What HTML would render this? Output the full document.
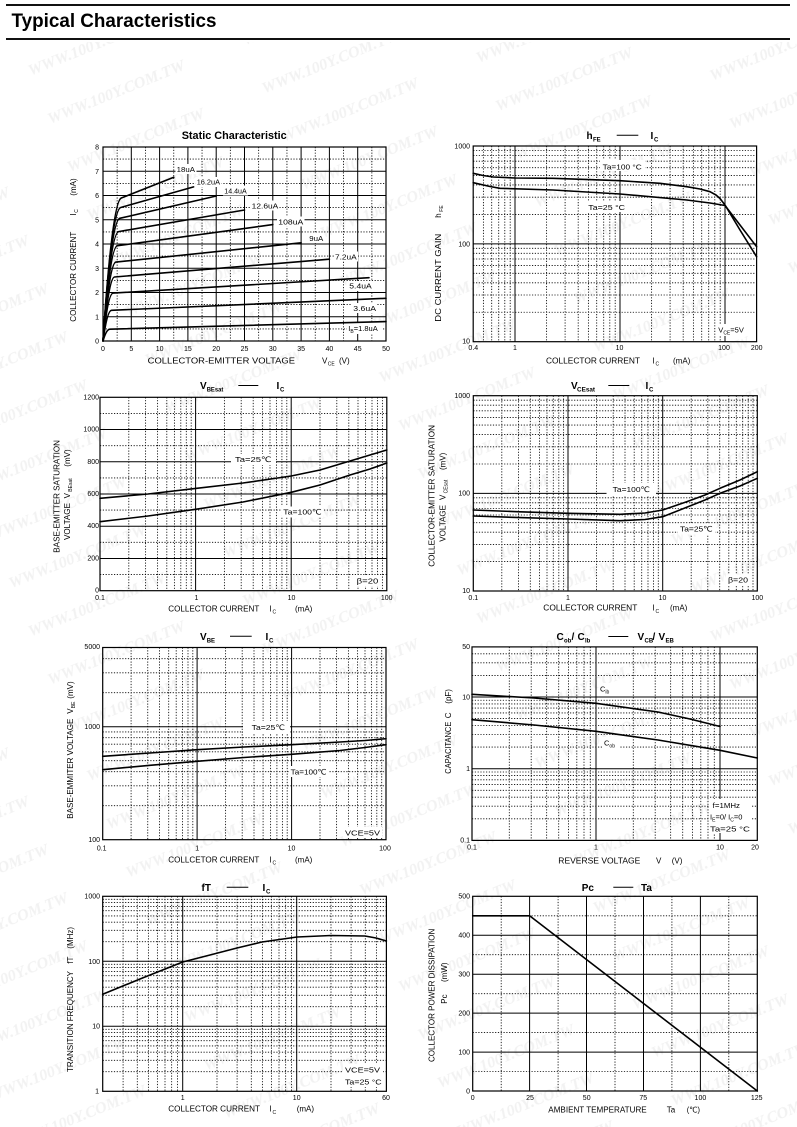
<!DOCTYPE html>
<html><head><meta charset="utf-8"><style>
html,body{margin:0;padding:0;background:#fff}
svg{display:block}
text{font-family:"Liberation Sans",Arial,"DejaVu Sans","Noto Sans CJK SC",sans-serif;fill:#000}
.s{stroke:#000;stroke-width:1;fill:none}
.d{stroke:#000;stroke-width:0.85;stroke-dasharray:1.2 1.6;fill:none}
.b{stroke:#000;stroke-width:1.2;fill:none}
.c{stroke:#000;stroke-width:1.6;fill:none;stroke-linejoin:round;stroke-linecap:round}
.t{font-size:7px}
.te{font-size:7px;text-anchor:end}
.tm{font-size:7px;text-anchor:middle}
.a{font-size:8px}
.n{font-size:7.5px}
.sb{font-size:5px}
.h{font-size:10px;font-weight:bold}
.hs{font-size:6px;font-weight:bold}
.wm{font-family:"Liberation Serif",serif;font-weight:bold;font-style:italic;font-size:16px;fill:#f2f2f2}
</style></head><body>
<svg width="797" height="1127" viewBox="0 0 797 1127" xmlns="http://www.w3.org/2000/svg">
<defs>
<pattern id="wm" width="210" height="52" patternUnits="userSpaceOnUse" patternTransform="rotate(-22)">
<text class="wm" x="0" y="30">WWW.100Y.COM.TW</text>
</pattern>
</defs>
<rect x="0" y="0" width="797" height="1127" fill="#fff"/>
<rect x="0" y="42" width="797" height="1085" fill="url(#wm)"/>

<!-- Header -->
<rect x="6" y="4" width="784" height="2" fill="#111"/>
<rect x="6" y="38" width="784" height="2" fill="#111"/>
<text x="11.5" y="27" style="font-size:19px;font-weight:bold" textLength="205" lengthAdjust="spacingAndGlyphs">Typical Characteristics</text>

<!-- ============ Chart A: Static Characteristic ============ -->
<path class="d" d="M117.15 147V341M145.45 147V341M173.75 147V341M202.05 147V341M230.35 147V341M258.65 147V341M286.95 147V341M315.25 147V341M343.55 147V341M371.85 147V341M103 328.9H386M103 304.6H386M103 280.4H386M103 256.1H386M103 231.9H386M103 207.6H386M103 183.4H386M103 159.1H386"/>
<path class="s" d="M131.3 147V341M159.6 147V341M187.9 147V341M216.2 147V341M244.5 147V341M272.8 147V341M301.1 147V341M329.4 147V341M357.7 147V341M103 316.75H386M103 292.5H386M103 268.25H386M103 244H386M103 219.75H386M103 195.5H386M103 171.25H386"/>
<rect class="b" x="103" y="147" width="283" height="194"/>
<g fill="#fff">
<rect x="175.5" y="164" width="21" height="10"/><rect x="195.5" y="177" width="26" height="10"/><rect x="223" y="185.5" width="25" height="10"/><rect x="250.5" y="200.5" width="29" height="10"/><rect x="277" y="216.5" width="27.5" height="10"/><rect x="308" y="233" width="16.5" height="10"/><rect x="334" y="251.5" width="24" height="10"/><rect x="348" y="281" width="25" height="10"/><rect x="352" y="303" width="25" height="10"/><rect x="347" y="323" width="36" height="11"/>
</g>
<path class="c" d="M103 341Q106.4 329.3 109.8 329.2L386 321.6"/>
<path class="c" d="M103 341Q107.2 310.5 111.5 310.3L386 298.3"/>
<path class="c" d="M103 341Q108 293.4 113.1 293.1L369 277.7"/>
<path class="c" d="M103 341Q108.8 277.5 114.5 277L329.4 259.2"/>
<path class="c" d="M103 341Q109.5 262.7 115.9 262.1L301.1 242.8"/>
<path class="c" d="M103 341Q110.2 246.7 117.4 245.7L272.8 224.6"/>
<path class="c" d="M103 341Q110.8 233 118.6 231.6L244.5 210"/>
<path class="c" d="M103 341Q111.4 220.2 119.8 218.3L216.2 196"/>
<path class="c" d="M103 341Q111.8 210 120.7 207.5L193.6 186.9"/>
<path class="c" d="M103 341Q112.2 201.6 121.3 198L173.8 177.3"/>
<text class="n" x="176.7" y="172" textLength="18.3" lengthAdjust="spacingAndGlyphs">18uA</text>
<text class="n" x="196.7" y="184.7" textLength="23.3" lengthAdjust="spacingAndGlyphs">16.2uA</text>
<text class="n" x="224.3" y="193.4" textLength="22.4" lengthAdjust="spacingAndGlyphs">14.4uA</text>
<text class="n" x="251.7" y="208.7" textLength="26.6" lengthAdjust="spacingAndGlyphs">12.6uA</text>
<text class="n" x="278.3" y="224.4" textLength="25" lengthAdjust="spacingAndGlyphs">108uA</text>
<text class="n" x="309.3" y="241" textLength="14" lengthAdjust="spacingAndGlyphs">9uA</text>
<text class="n" x="335" y="259.4" textLength="21.7" lengthAdjust="spacingAndGlyphs">7.2uA</text>
<text class="n" x="349.3" y="288.7" textLength="22.4" lengthAdjust="spacingAndGlyphs">5.4uA</text>
<text class="n" x="353.3" y="311" textLength="22.7" lengthAdjust="spacingAndGlyphs">3.6uA</text>
<text class="n" x="348.3" y="331">I<tspan class="sb" dy="2">B</tspan><tspan dy="-2">=1.8uA</tspan></text>
<g class="te"><text x="99" y="343.5">0</text><text x="99" y="319.25">1</text><text x="99" y="295">2</text><text x="99" y="270.75">3</text><text x="99" y="246.5">4</text><text x="99" y="222.25">5</text><text x="99" y="198">6</text><text x="99" y="173.75">7</text><text x="99" y="149.5">8</text></g>
<g class="tm"><text x="103" y="350.8">0</text><text x="131.3" y="350.8">5</text><text x="159.6" y="350.8">10</text><text x="187.9" y="350.8">15</text><text x="216.2" y="350.8">20</text><text x="244.5" y="350.8">25</text><text x="272.8" y="350.8">30</text><text x="301.1" y="350.8">35</text><text x="329.4" y="350.8">40</text><text x="357.7" y="350.8">45</text><text x="386" y="350.8">50</text></g>
<text x="181.7" y="139" style="font-size:11px;font-weight:bold" textLength="105" lengthAdjust="spacingAndGlyphs">Static Characteristic</text>
<text class="a" x="147.7" y="363.3" textLength="147.3" lengthAdjust="spacingAndGlyphs">COLLECTOR-EMITTER VOLTAGE</text>
<text class="a" x="322" y="363.3">V</text><text class="sb" x="327.8" y="365.5">CE</text><text class="a" x="339" y="363.3">(V)</text>
<g transform="translate(76.2 321.7) rotate(-90)"><text class="a" x="0" y="0" textLength="90" lengthAdjust="spacingAndGlyphs">COLLECTOR CURRENT</text><text class="a" x="106" y="0">I</text><text class="sb" x="109" y="2">C</text><text class="a" x="126" y="0">(mA)</text></g>

<!-- ============ Chart B: hFE ============ -->
<path class="d" d="M483.4 146V341.7M491.7 146V341.7M498.7 146V341.7M504.8 146V341.7M510.2 146V341.7M546.6 146V341.7M565.1 146V341.7M578.2 146V341.7M588.4 146V341.7M596.7 146V341.7M603.7 146V341.7M609.8 146V341.7M615.2 146V341.7M651.6 146V341.7M670.1 146V341.7M683.2 146V341.7M693.4 146V341.7M701.7 146V341.7M708.7 146V341.7M714.8 146V341.7M720.2 146V341.7M473.2 312.25H756.6M473.2 295H756.6M473.2 282.8H756.6M473.2 273.3H756.6M473.2 265.6H756.6M473.2 259H756.6M473.2 253.3H756.6M473.2 248.3H756.6M473.2 214.4H756.6M473.2 197.2H756.6M473.2 184.9H756.6M473.2 175.45H756.6M473.2 167.7H756.6M473.2 161.2H756.6M473.2 155.5H756.6M473.2 150.5H756.6"/>
<path class="s" d="M515 146V341.7M620 146V341.7M725 146V341.7M473.2 243.85H756.6"/>
<rect class="b" x="473.2" y="146" width="283.4" height="195.7"/>
<g fill="#fff"><rect x="600" y="160" width="45" height="11"/><rect x="586" y="201" width="42" height="11"/><rect x="716" y="324" width="37" height="12"/></g>
<polyline class="c" points="473.2,173.3 483,175.5 493.3,177 515,178 553,178.3 620,180.7 660,183.3 686.7,186.7 700,189 710,191.7 716,195 720,198.5 725,205 740,230 756.6,256.7"/>
<polyline class="c" points="473.2,182.7 490,186.5 500,188.3 553,190 620,194 686.7,200 710,203 725,205.5 740,225 756.6,246.7"/>
<text class="n" x="602.7" y="169.4" textLength="39" lengthAdjust="spacingAndGlyphs">Ta=100 °C</text>
<text class="n" x="588.3" y="210" textLength="36.7" lengthAdjust="spacingAndGlyphs">Ta=25 °C</text>
<text class="n" x="718.3" y="332.7">V<tspan class="sb" dy="2">CE</tspan><tspan dy="-2">=5V</tspan></text>
<g class="te"><text x="470" y="148.5">1000</text><text x="470" y="246.3">100</text><text x="470" y="343.5">10</text></g>
<g class="tm"><text x="473.3" y="350.2">0.4</text><text x="515" y="350.2">1</text><text x="619.5" y="350.2">10</text><text x="724" y="350.2">100</text><text x="756.7" y="350.2">200</text></g>
<text class="h" x="586.5" y="139">h</text><text class="hs" x="593" y="141.5">FE</text><path class="s" d="M616.7 135.3H638.3"/><text class="h" x="650.5" y="139">I</text><text class="hs" x="654" y="141.5">C</text>
<text class="a" x="546" y="363.3" textLength="94" lengthAdjust="spacingAndGlyphs">COLLECTOR CURRENT</text>
<text class="a" x="652.5" y="363.3">I</text><text class="sb" x="655.5" y="365.5">C</text><text class="a" x="673" y="363.3">(mA)</text>
<g transform="translate(441.2 321.7) rotate(-90)"><text class="a" x="0" y="0" textLength="88" lengthAdjust="spacingAndGlyphs">DC CURRENT GAIN</text><text class="a" x="104" y="0">h</text><text class="sb" x="110" y="2">FE</text></g>

<!-- ============ Chart C: VBEsat ============ -->
<path class="d" d="M128.8 397.3V590.7M145.6 397.3V590.7M157.6 397.3V590.7M166.8 397.3V590.7M174.4 397.3V590.7M180.8 397.3V590.7M186.3 397.3V590.7M191.2 397.3V590.7M224.4 397.3V590.7M241.2 397.3V590.7M253.2 397.3V590.7M262.4 397.3V590.7M270 397.3V590.7M276.4 397.3V590.7M281.9 397.3V590.7M286.8 397.3V590.7M320 397.3V590.7M336.8 397.3V590.7M348.8 397.3V590.7M358 397.3V590.7M365.6 397.3V590.7M372 397.3V590.7M377.5 397.3V590.7M382.4 397.3V590.7M100 574.6H386.8M100 542.35H386.8M100 510.1H386.8M100 477.9H386.8M100 445.65H386.8M100 413.4H386.8"/>
<path class="s" d="M195.6 397.3V590.7M291.2 397.3V590.7M100 558.5H386.8M100 526.2H386.8M100 494H386.8M100 461.8H386.8M100 429.5H386.8"/>
<rect class="b" x="100" y="397.3" width="286.8" height="193.4"/>
<g fill="#fff"><rect x="231" y="454" width="45" height="11"/><rect x="281.5" y="506.5" width="42" height="11"/><rect x="354" y="575" width="27" height="11"/></g>
<polyline class="c" points="100,498.3 148,494 195.6,488.4 243,483 291.2,476 320,470 350,461 370,455 386.8,450"/>
<polyline class="c" points="100,521.7 148,516 195.6,509.3 243,502 291.2,492.3 320,485 350,475 370,469 386.8,463"/>
<text class="n" x="235" y="462" textLength="36.7" lengthAdjust="spacingAndGlyphs">Ta=25℃</text>
<text class="n" x="283.3" y="514.4" textLength="38.4" lengthAdjust="spacingAndGlyphs">Ta=100℃</text>
<text class="n" x="356.7" y="583.4" textLength="21.6" lengthAdjust="spacingAndGlyphs">β=20</text>
<g class="te"><text x="99" y="399.3">1200</text><text x="99" y="431.5">1000</text><text x="99" y="463.8">800</text><text x="99" y="496">600</text><text x="99" y="528.2">400</text><text x="99" y="560.5">200</text><text x="99" y="592.7">0</text></g>
<g class="tm"><text x="100" y="600.2">0.1</text><text x="196.5" y="600.2">1</text><text x="291.5" y="600.2">10</text><text x="386.7" y="600.2">100</text></g>
<text class="h" x="200" y="389">V</text><text class="hs" x="206.7" y="391.5" textLength="16.6" lengthAdjust="spacingAndGlyphs">BEsat</text><path class="s" d="M238.3 385.5H258.3"/><text class="h" x="276.5" y="389">I</text><text class="hs" x="280" y="391.5">C</text>
<text class="a" x="168.3" y="611.3" textLength="91" lengthAdjust="spacingAndGlyphs">COLLECTOR CURRENT</text>
<text class="a" x="269.5" y="611.3">I</text><text class="sb" x="272.5" y="613.5">C</text><text class="a" x="295" y="611.3">(mA)</text>
<g transform="translate(59.6 552.7) rotate(-90)"><text class="a" x="0" y="0" textLength="112.7" lengthAdjust="spacingAndGlyphs">BASE-EMITTER SATURATION</text></g>
<g transform="translate(70.2 540) rotate(-90)"><text class="a" x="0" y="0" textLength="37" lengthAdjust="spacingAndGlyphs">VOLTAGE</text><text class="a" x="41.7" y="0">V</text><text class="sb" x="48.3" y="2">BEsat</text><text class="a" x="73.3" y="0">(mV)</text></g>

<!-- ============ Chart D: VCEsat ============ -->
<path class="d" d="M501.8 395.7V591M518.5 395.7V591M530.3 395.7V591M539.5 395.7V591M547 395.7V591M553.3 395.7V591M558.8 395.7V591M563.6 395.7V591M596.5 395.7V591M613.2 395.7V591M625 395.7V591M634.2 395.7V591M641.7 395.7V591M648 395.7V591M653.5 395.7V591M658.3 395.7V591M691.2 395.7V591M707.8 395.7V591M719.7 395.7V591M728.8 395.7V591M736.3 395.7V591M742.7 395.7V591M748.2 395.7V591M753 395.7V591M473.3 561.6H757.3M473.3 544.4H757.3M473.3 532.2H757.3M473.3 522.7H757.3M473.3 515H757.3M473.3 508.5H757.3M473.3 502.8H757.3M473.3 497.8H757.3M473.3 464H757.3M473.3 446.8H757.3M473.3 434.6H757.3M473.3 425.1H757.3M473.3 417.4H757.3M473.3 410.8H757.3M473.3 405.2H757.3M473.3 400.2H757.3"/>
<path class="s" d="M568 395.7V591M662.7 395.7V591M473.3 493.35H757.3"/>
<rect class="b" x="473.3" y="395.7" width="284" height="195.3"/>
<g fill="#fff"><rect x="606.5" y="483" width="49.5" height="12"/><rect x="678" y="523.5" width="37" height="11"/><rect x="726" y="574.5" width="25" height="11"/></g>
<polyline class="c" points="473.3,510 520,511.8 568,513.3 620,514.3 645,513 662.7,510 686.7,501.7 705,495 720,488.3 740,480 757.3,471.7"/>
<polyline class="c" points="473.3,516 520,517.6 568,519 620,520.7 645,519.5 662.7,516.7 686.7,507.3 705,500 720,493.3 740,486 757.3,478.3"/>
<text class="n" x="612.7" y="492" textLength="37.3" lengthAdjust="spacingAndGlyphs">Ta=100℃</text>
<text class="n" x="680" y="531.7" textLength="32.7" lengthAdjust="spacingAndGlyphs">Ta=25℃</text>
<text class="n" x="728" y="582.7" textLength="20" lengthAdjust="spacingAndGlyphs">β=20</text>
<g class="te"><text x="470" y="398">1000</text><text x="470" y="495.5">100</text><text x="470" y="593">10</text></g>
<g class="tm"><text x="473.3" y="599.8">0.1</text><text x="568" y="599.8">1</text><text x="662.5" y="599.8">10</text><text x="757.3" y="599.8">100</text></g>
<text class="h" x="571" y="389">V</text><text class="hs" x="577" y="391.5" textLength="18" lengthAdjust="spacingAndGlyphs">CEsat</text><path class="s" d="M608.3 385.5H629.3"/><text class="h" x="645.5" y="389">I</text><text class="hs" x="649" y="391.5">C</text>
<text class="a" x="543.3" y="610.7" textLength="94" lengthAdjust="spacingAndGlyphs">COLLECTOR CURRENT</text>
<text class="a" x="652.5" y="610.7">I</text><text class="sb" x="655.5" y="612.9">C</text><text class="a" x="670" y="610.7">(mA)</text>
<g transform="translate(434.6 566.7) rotate(-90)"><text class="a" x="0" y="0" textLength="141.7" lengthAdjust="spacingAndGlyphs">COLLECTOR-EMITTER SATURATION</text></g>
<g transform="translate(445.6 541.7) rotate(-90)"><text class="a" x="0" y="0" textLength="36.7" lengthAdjust="spacingAndGlyphs">VOLTAGE</text><text class="a" x="41.7" y="0">V</text><text class="sb" x="48.3" y="2">CEsat</text><text class="a" x="71.7" y="0">(mV)</text></g>

<!-- ============ Chart E: VBE ============ -->
<path class="d" d="M131.1 647.5V839.7M147.75 647.5V839.7M159.55 647.5V839.7M168.7 647.5V839.7M176.2 647.5V839.7M182.5 647.5V839.7M188 647.5V839.7M192.8 647.5V839.7M225.6 647.5V839.7M242.2 647.5V839.7M254 647.5V839.7M263.1 647.5V839.7M270.6 647.5V839.7M276.9 647.5V839.7M282.4 647.5V839.7M287.2 647.5V839.7M320 647.5V839.7M336.6 647.5V839.7M348.4 647.5V839.7M357.6 647.5V839.7M365 647.5V839.7M371.4 647.5V839.7M376.8 647.5V839.7M381.7 647.5V839.7M102.7 805.7H386M102.7 785.8H386M102.7 771.7H386M102.7 760.7H386M102.7 751.8H386M102.7 744.2H386M102.7 737.65H386M102.7 731.9H386M102.7 692.7H386M102.7 672.8H386M102.7 658.7H386"/>
<path class="s" d="M197.1 647.5V839.7M291.6 647.5V839.7M102.7 726.7H386"/>
<rect class="b" x="102.7" y="647.5" width="283.3" height="192.2"/>
<g fill="#fff"><rect x="243" y="721" width="47" height="12"/><rect x="288.5" y="766" width="40" height="11"/><rect x="343" y="827" width="39" height="11"/></g>
<polyline class="c" points="102.7,756.3 150,753 197.1,749.7 244,747 291.6,744.7 340,742 365,740.5 386,738.7"/>
<polyline class="c" points="102.7,769.7 150,765.3 197.1,761.3 244,757.5 291.6,754.3 340,750.5 365,747.5 386,744.7"/>
<text class="n" x="251.7" y="730" textLength="33.3" lengthAdjust="spacingAndGlyphs">Ta=25℃</text>
<text class="n" x="290.7" y="774.7" textLength="36" lengthAdjust="spacingAndGlyphs">Ta=100℃</text>
<text class="n" x="345" y="835.4" textLength="35" lengthAdjust="spacingAndGlyphs">VCE=5V</text>
<g class="te"><text x="100" y="649">5000</text><text x="100" y="729.2">1000</text><text x="100" y="842">100</text></g>
<g class="tm"><text x="101.7" y="850.5">0.1</text><text x="197.2" y="850.5">1</text><text x="291.5" y="850.5">10</text><text x="385" y="850.5">100</text></g>
<text class="h" x="200" y="640">V</text><text class="hs" x="206.7" y="642.5">BE</text><path class="s" d="M230 636.3H251.7"/><text class="h" x="265.5" y="640">I</text><text class="hs" x="269" y="642.5">C</text>
<text class="a" x="168.3" y="862.3" textLength="91" lengthAdjust="spacingAndGlyphs">COLLCETOR CURRENT</text>
<text class="a" x="269.5" y="862.3">I</text><text class="sb" x="272.5" y="864.5">C</text><text class="a" x="295" y="862.3">(mA)</text>
<g transform="translate(72.9 818.7) rotate(-90)"><text class="a" x="0" y="0" textLength="100" lengthAdjust="spacingAndGlyphs">BASE-EMMITER VOLTAGE</text><text class="a" x="105" y="0">V</text><text class="sb" x="110.5" y="2">BE</text><text class="a" x="120" y="0">(mV)</text></g>

<!-- ============ Chart F: Cob/Cib ============ -->
<path class="d" d="M509.3 646.9V840.4M531.2 646.9V840.4M546.65 646.9V840.4M558.7 646.9V840.4M568.5 646.9V840.4M576.8 646.9V840.4M584 646.9V840.4M590.3 646.9V840.4M633.3 646.9V840.4M655.2 646.9V840.4M670.65 646.9V840.4M682.7 646.9V840.4M692.5 646.9V840.4M700.8 646.9V840.4M708 646.9V840.4M714.3 646.9V840.4M472 818.8H757.3M472 806.2H757.3M472 797.2H757.3M472 790.3H757.3M472 784.6H757.3M472 779.8H757.3M472 775.6H757.3M472 772H757.3M472 747.1H757.3M472 734.5H757.3M472 725.5H757.3M472 718.6H757.3M472 712.9H757.3M472 708.1H757.3M472 703.9H757.3M472 700.25H757.3M472 675.4H757.3M472 662.8H757.3M472 653.8H757.3"/>
<path class="s" d="M596 646.9V840.4M720 646.9V840.4M472 768.7H757.3M472 697H757.3"/>
<rect class="b" x="472" y="646.9" width="285.3" height="193.5"/>
<g fill="#fff"><rect x="598.5" y="683" width="15" height="11"/><rect x="602.5" y="737" width="17" height="11"/><rect x="709" y="799" width="43" height="34"/></g>
<polyline class="c" points="472,694.3 534,698 596,703.3 658,712 690,719 720,726.5"/>
<polyline class="c" points="472,719.7 534,725 596,731.3 658,740 720,750.3 757.3,758"/>
<text class="n" x="600" y="691.4">C<tspan class="sb" dy="2">ib</tspan></text>
<text class="n" x="604" y="745.4">C<tspan class="sb" dy="2">ob</tspan></text>
<text class="n" x="712.7" y="808" textLength="27.3" lengthAdjust="spacingAndGlyphs">f=1MHz</text>
<text class="n" x="710" y="819.7">I<tspan class="sb" dy="2">E</tspan><tspan dy="-2">=0/ I</tspan><tspan class="sb" dy="2">C</tspan><tspan dy="-2">=0</tspan></text>
<text class="n" x="710" y="831.4" textLength="40" lengthAdjust="spacingAndGlyphs">Ta=25 °C</text>
<g class="te"><text x="470" y="649">50</text><text x="470" y="699.5">10</text><text x="470" y="771">1</text><text x="470" y="842.5">0.1</text></g>
<g class="tm"><text x="472" y="849.5">0.1</text><text x="596" y="849.5">1</text><text x="720" y="849.5">10</text><text x="755" y="849.5">20</text></g>
<text class="h" x="556.5" y="640">C</text><text class="hs" x="564" y="642.5">ob</text><text class="h" x="571.5" y="640">/</text><text class="h" x="577.5" y="640">C</text><text class="hs" x="585" y="642.5">Ib</text>
<path class="s" d="M608.3 636.5H628.3"/>
<text class="h" x="637.5" y="640">V</text><text class="hs" x="644.5" y="642.5">CB</text><text class="h" x="652.5" y="640">/</text><text class="h" x="658.5" y="640">V</text><text class="hs" x="665.5" y="642.5">EB</text>
<text class="a" x="558.3" y="863.3" textLength="82" lengthAdjust="spacingAndGlyphs">REVERSE VOLTAGE</text>
<text class="a" x="656" y="863.3">V</text><text class="a" x="671.7" y="863.3">(V)</text>
<g transform="translate(451.2 773.7) rotate(-90)"><text class="a" x="0" y="0" textLength="52" lengthAdjust="spacingAndGlyphs">CAPACITANCE</text><text class="a" x="55.5" y="0">C</text><text class="a" x="70" y="0">(pF)</text></g>

<!-- ============ Chart G: fT ============ -->
<path class="d" d="M123.1 896.3V1091.3M137.3 896.3V1091.3M148.4 896.3V1091.3M157.4 896.3V1091.3M165 896.3V1091.3M171.65 896.3V1091.3M177.5 896.3V1091.3M217 896.3V1091.3M237.1 896.3V1091.3M251.3 896.3V1091.3M262.4 896.3V1091.3M271.4 896.3V1091.3M279 896.3V1091.3M285.65 896.3V1091.3M291.5 896.3V1091.3M331 896.3V1091.3M351.1 896.3V1091.3M365.3 896.3V1091.3M376.4 896.3V1091.3M102.7 1071.7H386.4M102.7 1060.3H386.4M102.7 1052.2H386.4M102.7 1045.9H386.4M102.7 1040.7H386.4M102.7 1036.4H386.4M102.7 1032.6H386.4M102.7 1029.3H386.4M102.7 1006.7H386.4M102.7 995.3H386.4M102.7 987.2H386.4M102.7 980.9H386.4M102.7 975.7H386.4M102.7 971.4H386.4M102.7 967.6H386.4M102.7 964.3H386.4M102.7 941.7H386.4M102.7 930.3H386.4M102.7 922.2H386.4M102.7 915.9H386.4M102.7 910.7H386.4M102.7 906.4H386.4M102.7 902.6H386.4M102.7 899.3H386.4"/>
<path class="s" d="M182.7 896.3V1091.3M296.7 896.3V1091.3M102.7 1026.3H386.4M102.7 961.3H386.4"/>
<rect class="b" x="102.7" y="896.3" width="283.7" height="195"/>
<g fill="#fff"><rect x="343" y="1064" width="40" height="23"/></g>
<polyline class="c" points="102.7,994.3 140,979 182.7,962 210,955 237,948 262,942 297,937 331,935.5 365,936 376,938 386.4,941"/>
<text class="n" x="345" y="1072.4" textLength="35" lengthAdjust="spacingAndGlyphs">VCE=5V</text>
<text class="n" x="345" y="1084.7" textLength="36.7" lengthAdjust="spacingAndGlyphs">Ta=25 °C</text>
<g class="te"><text x="100" y="898.5">1000</text><text x="100" y="963.8">100</text><text x="100" y="1028.5">10</text><text x="99" y="1093.5">1</text></g>
<g class="tm"><text x="182.7" y="1100.2">1</text><text x="296.7" y="1100.2">10</text><text x="386" y="1100.2">60</text></g>
<text class="h" x="201.5" y="891">fT</text><path class="s" d="M226.7 887.3H248.3"/><text class="h" x="262.5" y="891">I</text><text class="hs" x="266" y="893.5">C</text>
<text class="a" x="168.3" y="1111.7" textLength="91.7" lengthAdjust="spacingAndGlyphs">COLLECTOR CURRENT</text>
<text class="a" x="269.5" y="1111.7">I</text><text class="sb" x="272.5" y="1113.9">C</text><text class="a" x="296.7" y="1111.7">(mA)</text>
<g transform="translate(72.9 1072) rotate(-90)"><text class="a" x="0" y="0" textLength="101" lengthAdjust="spacingAndGlyphs">TRANSITION FREQUENCY</text><text class="a" x="108.3" y="0">fT</text><text class="a" x="123.3" y="0">(MHz)</text></g>

<!-- ============ Chart H: Pc - Ta ============ -->
<path class="d" d="M501.2 896.3V1091M558.1 896.3V1091M615 896.3V1091M671.9 896.3V1091M728.8 896.3V1091M472.7 1071.5H757.3M472.7 1032.6H757.3M472.7 993.65H757.3M472.7 954.7H757.3M472.7 915.8H757.3"/>
<path class="s" d="M529.6 896.3V1091M586.5 896.3V1091M643.5 896.3V1091M700.4 896.3V1091M472.7 1052.1H757.3M472.7 1013.1H757.3M472.7 974.2H757.3M472.7 935.2H757.3"/>
<rect class="b" x="472.7" y="896.3" width="284.6" height="194.7"/>
<path class="c" d="M472.7 915.8H529.6L757.3 1091"/>
<g class="te"><text x="470" y="898.5">500</text><text x="470" y="937.5">400</text><text x="470" y="976.5">300</text><text x="470" y="1015.5">200</text><text x="470" y="1054.5">100</text><text x="470" y="1093.5">0</text></g>
<g class="tm"><text x="472.7" y="1099.8">0</text><text x="530" y="1099.8">25</text><text x="586.7" y="1099.8">50</text><text x="643.3" y="1099.8">75</text><text x="700.4" y="1099.8">100</text><text x="756.7" y="1099.8">125</text></g>
<text class="h" x="581.7" y="891">Pc</text><path class="s" d="M613.3 887.3H633.3"/><text class="h" x="641" y="891">Ta</text>
<text class="a" x="548.3" y="1112.3" textLength="98.4" lengthAdjust="spacingAndGlyphs">AMBIENT TEMPERATURE</text>
<text class="a" x="666.7" y="1112.3">Ta</text><text class="a" x="686.7" y="1112.3" textLength="13.3" lengthAdjust="spacingAndGlyphs">(℃)</text>
<g transform="translate(434.6 1062) rotate(-90)"><text class="a" x="0" y="0" textLength="133.3" lengthAdjust="spacingAndGlyphs">COLLECTOR POWER DISSIPATION</text></g>
<g transform="translate(446.9 1003.7) rotate(-90)"><text class="a" x="0" y="0">Pc</text><text class="a" x="21.7" y="0">(mW)</text></g>
</svg>
</body></html>
